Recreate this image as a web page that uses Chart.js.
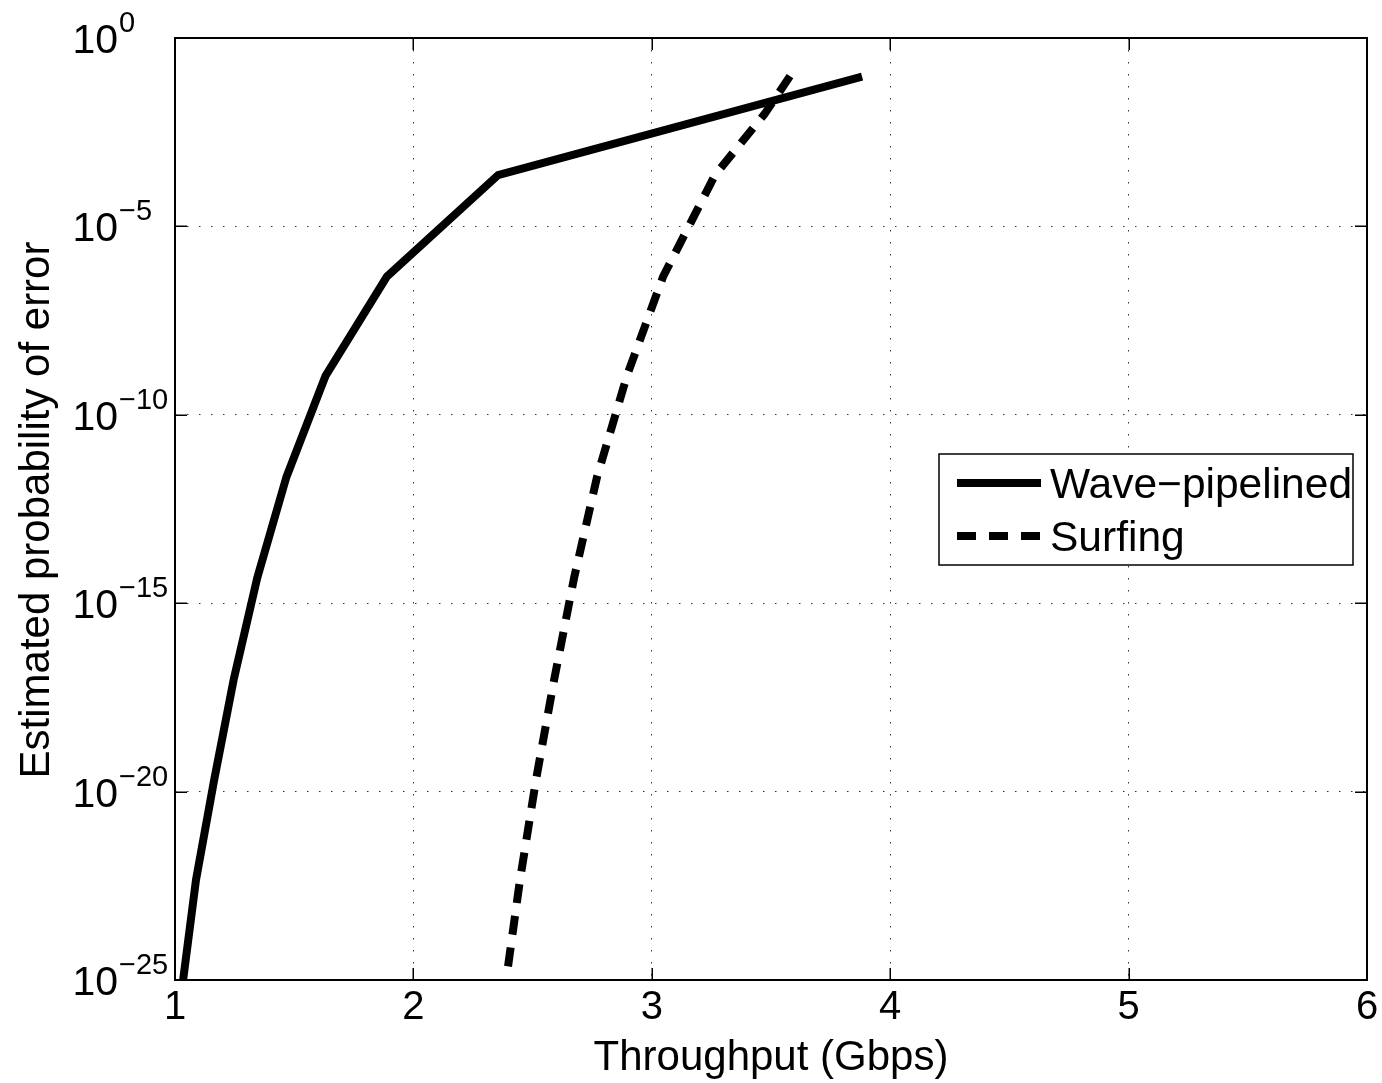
<!DOCTYPE html>
<html>
<head>
<meta charset="utf-8">
<script src="https://cdn.jsdelivr.net/npm/chart.js@4.4.1/dist/chart.umd.min.js"></script>
<style>
  html, body { margin: 0; padding: 0; background: #fff; }
  canvas { display: block; }
</style>
</head>
<body>
<canvas id="chart" width="1382" height="1083"></canvas>
<script>
// Series names
const seriesNames = ['Wave\u2212pipelined', 'Surfing'];

// Wave-pipelined: throughput (Gbps) vs estimated error probability
const throughputWave = [1.034, 1.088, 1.164, 1.247, 1.345, 1.467, 1.632, 1.888, 2.355, 3.882];
const errorWave = [1e-25, 4.5e-23, 2.0e-20, 1.0e-17, 4.7e-15, 2.2e-12, 1.1e-9, 4.6e-7, 2.3e-4, 9.4e-2];

// Surfing: throughput (Gbps) vs estimated error probability
const throughputSurf = [2.397, 2.447, 2.514, 2.590, 2.674, 2.770, 2.896, 3.047, 3.265, 3.475, 3.580];
const errorSurf = [2.3e-25, 4.5e-23, 2.0e-20, 9.1e-18, 4.7e-15, 2.2e-12, 1.1e-9, 4.6e-7, 2.3e-4, 1.0e-2, 9.8e-2];

// Axis ticks and titles
const xTicks = [1, 2, 3, 4, 5, 6];
const yTickExponents = [0, -5, -10, -15, -20, -25];
const xTitle = 'Throughput (Gbps)';
const yTitle = 'Estimated probability of error';

const FONT = '"Liberation Sans", Arial, Helvetica, sans-serif';

function toPoints(xs, ys) {
  return xs.map((x, i) => ({ x: x, y: ys[i] }));
}

// Box, inner tick marks, legend and all axis text
const axesFrame = {
  id: 'axesFrame',
  afterDatasetsDraw(chart) {
    const { ctx, chartArea: a, scales } = chart;
    const xs = scales.x, ys = scales.y;
    ctx.save();
    ctx.strokeStyle = '#000';
    ctx.lineWidth = 1.5;
    const L = 12;
    ctx.beginPath();
    xTicks.forEach(v => {
      const px = Math.round(xs.getPixelForValue(v)) + 0.25;
      ctx.moveTo(px, a.bottom); ctx.lineTo(px, a.bottom - L);
      ctx.moveTo(px, a.top); ctx.lineTo(px, a.top + L);
    });
    yTickExponents.forEach(e => {
      const py = Math.round(ys.getPixelForValue(Math.pow(10, e))) + 0.25;
      ctx.moveTo(a.left, py); ctx.lineTo(a.left + L, py);
      ctx.moveTo(a.right, py); ctx.lineTo(a.right - L, py);
    });
    ctx.stroke();

    ctx.lineWidth = 2;
    ctx.strokeRect(a.left, a.top, a.right - a.left, a.bottom - a.top);

    // legend
    const lg = { x: 939, y: 454, w: 414, h: 111 };
    ctx.fillStyle = '#fff';
    ctx.fillRect(lg.x, lg.y, lg.w, lg.h);
    ctx.lineWidth = 1.5;
    ctx.strokeStyle = '#000';
    ctx.strokeRect(lg.x, lg.y, lg.w, lg.h);
    const rows = [483, 536];
    chart.data.datasets.forEach((ds, i) => {
      ctx.save();
      ctx.strokeStyle = ds.borderColor;
      ctx.lineWidth = ds.borderWidth;
      ctx.lineCap = 'butt';
      ctx.setLineDash(ds.borderDash || []);
      ctx.beginPath();
      ctx.moveTo(957, rows[i]);
      ctx.lineTo(1041, rows[i]);
      ctx.stroke();
      ctx.restore();
      ctx.fillStyle = '#000';
      ctx.font = '42.5px ' + FONT;
      ctx.textAlign = 'left';
      ctx.textBaseline = 'alphabetic';
      ctx.fillText(ds.label, 1050, rows[i] + 15);
    });
    ctx.restore();
  },
  afterDraw(chart) {
    const { ctx, chartArea: a, scales } = chart;
    const xs = scales.x, ys = scales.y;
    ctx.save();
    ctx.fillStyle = '#000';
    ctx.textBaseline = 'alphabetic';

    // x tick labels
    ctx.font = '40px ' + FONT;
    ctx.textAlign = 'center';
    xTicks.forEach(v => {
      ctx.fillText(String(v), xs.getPixelForValue(v), 1019);
    });

    // y tick labels as powers of ten
    yTickExponents.forEach(e => {
      const py = ys.getPixelForValue(Math.pow(10, e));
      ctx.font = '41px ' + FONT;
      ctx.textAlign = 'right';
      ctx.fillText('10', 118, py + 15);
      ctx.font = '29px ' + FONT;
      ctx.textAlign = 'left';
      ctx.fillText(e === 0 ? '0' : '\u2212' + Math.abs(e), 119, py - 6);
    });

    // axis titles
    ctx.font = '42px ' + FONT;
    ctx.textAlign = 'center';
    ctx.fillText(xTitle, (a.left + a.right) / 2, 1070);
    ctx.save();
    ctx.translate(49, (a.top + a.bottom) / 2 + 1);
    ctx.rotate(-Math.PI / 2);
    ctx.fillText(yTitle, 0, 0);
    ctx.restore();
    ctx.restore();
  }
};

new Chart(document.getElementById('chart'), {
  type: 'line',
  data: {
    datasets: [
      {
        label: seriesNames[0],
        data: toPoints(throughputWave, errorWave),
        borderColor: '#000',
        borderWidth: 8,
        borderJoinStyle: 'round',
        borderCapStyle: 'butt',
        pointRadius: 0,
        tension: 0,
        fill: false
      },
      {
        label: seriesNames[1],
        data: toPoints(throughputSurf, errorSurf),
        borderColor: '#000',
        borderWidth: 8,
        borderDash: [19, 13],
        borderJoinStyle: 'round',
        borderCapStyle: 'butt',
        pointRadius: 0,
        tension: 0,
        fill: false
      }
    ]
  },
  options: {
    responsive: false,
    animation: false,
    layout: { padding: { top: 38, right: 15, left: 0, bottom: 0 } },
    plugins: { legend: { display: false }, tooltip: { enabled: false } },
    scales: {
      x: {
        type: 'linear',
        min: 1,
        max: 6,
        ticks: { display: false, stepSize: 1 },
        grid: { color: '#333', lineWidth: 1, drawTicks: false },
        border: { display: false, dash: [1.5, 10.5] },
        afterFit(scale) { scale.height = 103; }
      },
      y: {
        type: 'logarithmic',
        min: 1e-25,
        max: 1,
        ticks: { display: false },
        grid: { color: '#333', lineWidth: 1, drawTicks: false },
        border: { display: false, dash: [1.5, 10.5] },
        afterBuildTicks(scale) {
          scale.ticks = yTickExponents.map(e => ({ value: Math.pow(10, e) }));
        },
        afterFit(scale) { scale.width = 175; }
      }
    }
  },
  plugins: [axesFrame]
});
</script>
</body>
</html>
